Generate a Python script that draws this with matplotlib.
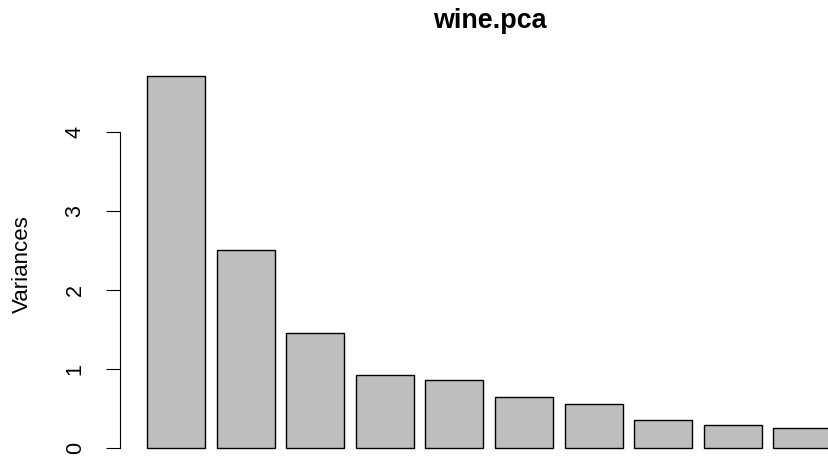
import numpy as np
import matplotlib
matplotlib.use("Agg")
import matplotlib.pyplot as plt

plt.rcParams['font.family'] = ['Liberation Sans', 'DejaVu Sans']

# variances of the first 10 components (wine.pca)
components = ['PC1', 'PC2', 'PC3', 'PC4', 'PC5', 'PC6', 'PC7', 'PC8', 'PC9', 'PC10']
variances = [4.706, 2.497, 1.446, 0.919, 0.853, 0.642, 0.551, 0.348, 0.289, 0.251]
yticks = [0, 1, 2, 3, 4]

fig = plt.figure(figsize=(8.29, 4.57), dpi=100)
# plot region like R's barplot (right/bottom run past the cropped image)
ax = fig.add_axes([119.6 / 829, -5.6 / 457, 739.2 / 829, 401.6 / 457])

# R barplot layout: width 1, space 0.2
x = 0.7 + 1.2 * np.arange(len(variances))
ax.bar(x, variances, width=1.0, color='#bebebe', edgecolor='black', linewidth=1.0)

ax.set_xlim(-0.272, 12.472)
ax.set_ylim(-0.188, 4.894)

for s in ['top', 'right', 'bottom']:
    ax.spines[s].set_visible(False)
ax.spines['left'].set_bounds(0, 4)
ax.spines['left'].set_linewidth(0.8)
ax.set_xticks([])
ax.set_yticks(yticks)
ax.set_yticklabels([str(t) for t in yticks], rotation=90, va='center', fontsize=15.5)
ax.tick_params(axis='y', length=10, width=0.8, pad=14.4)

fig.text(22.5 / 829, 1 - 264 / 457, 'Variances', rotation=90, ha='center', va='center', fontsize=16)
fig.text(490 / 829, 1 - 28 / 457, 'wine.pca', ha='center', va='baseline', fontsize=19.4, fontweight='bold')

fig.savefig('out.png', dpi=100)
